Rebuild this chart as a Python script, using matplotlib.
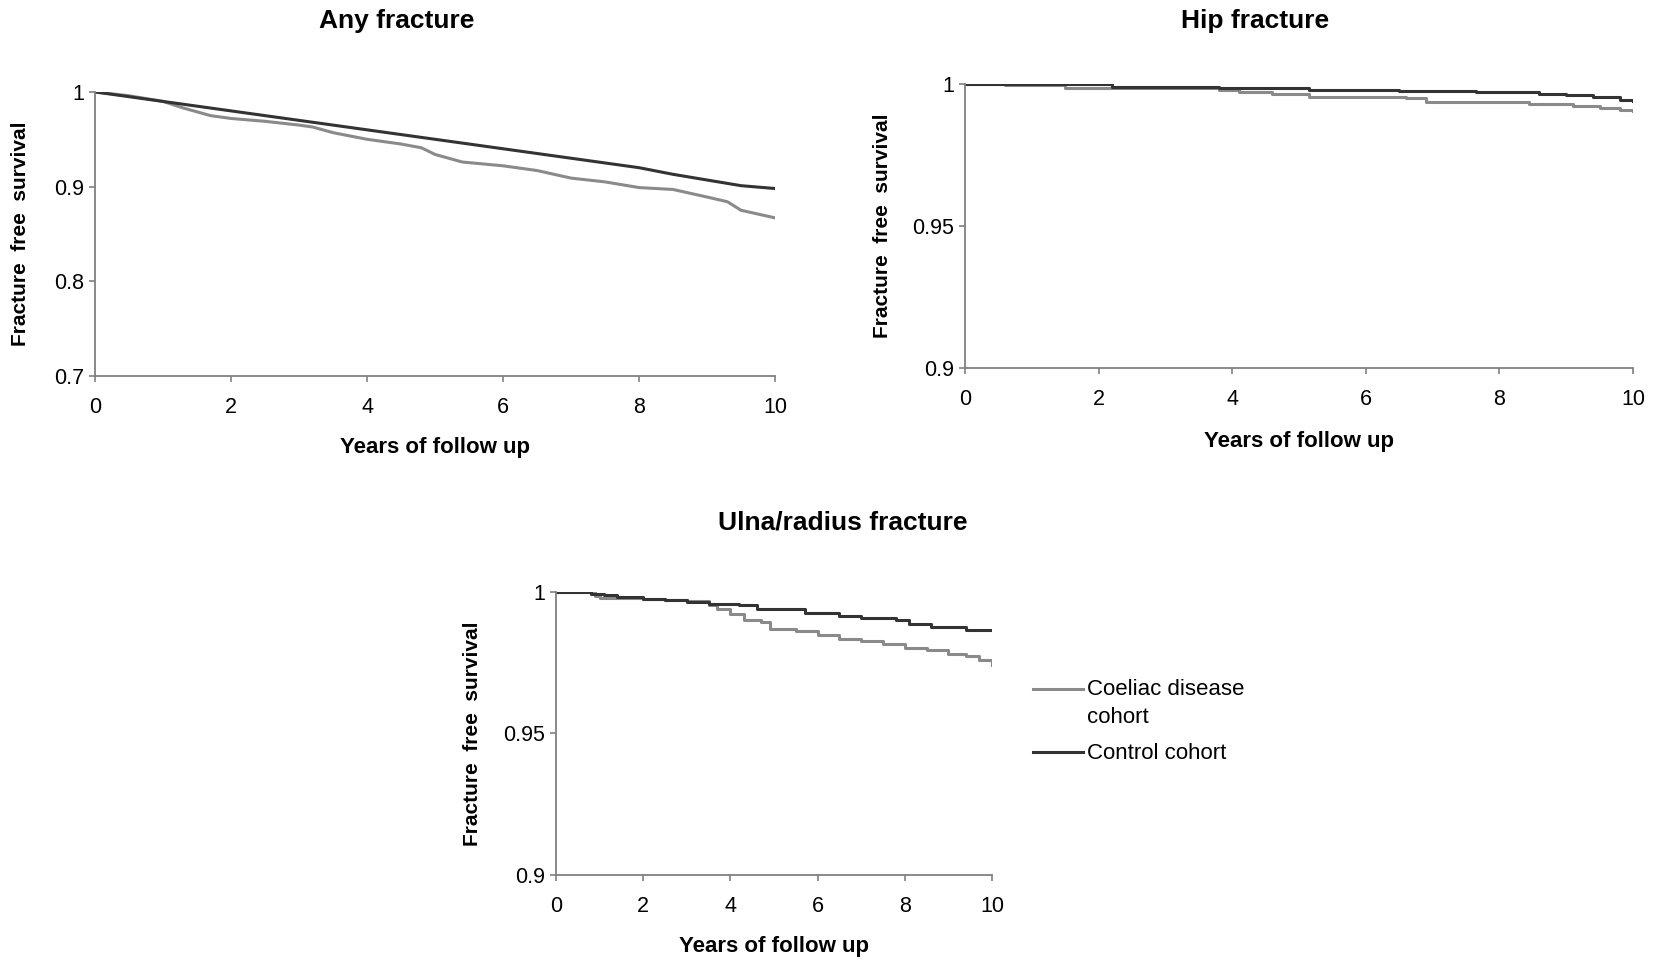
import matplotlib
matplotlib.use("Agg")
import matplotlib.pyplot as plt
from matplotlib.lines import Line2D

plt.rcParams['font.family'] = ['Liberation Sans', 'DejaVu Sans']

# Any fracture
any_ctrl_t = [0, 1, 2, 3, 4, 5, 6, 7, 8, 8.5, 9, 9.5, 10]
any_ctrl_s = [1.0, 0.990, 0.980, 0.970, 0.960, 0.950, 0.940, 0.930, 0.920, 0.913, 0.907, 0.901, 0.898]
any_coel_t = [0, 0.5, 1.0, 1.3, 1.7, 2.0, 2.5, 3.0, 3.2, 3.5, 4.0, 4.5, 4.8, 5.0, 5.4,
              6.0, 6.5, 7.0, 7.5, 8.0, 8.5, 9.0, 9.3, 9.5, 10]
any_coel_s = [1.0, 0.996, 0.990, 0.983, 0.975, 0.972, 0.969, 0.965, 0.963, 0.957, 0.950, 0.945, 0.941, 0.934, 0.926,
              0.922, 0.917, 0.909, 0.905, 0.899, 0.897, 0.889, 0.884, 0.875, 0.867]

# Hip fracture
hip_ctrl_t = [0, 2.2, 3.8, 5.15, 6.5, 7.65, 8.6, 9.0, 9.4, 9.8, 10]
hip_ctrl_s = [1.0, 0.9990, 0.9984, 0.9978, 0.9975, 0.9970, 0.9965, 0.9960, 0.9953, 0.9945, 0.9941]
hip_coel_t = [0, 0.6, 1.5, 3.8, 4.1, 4.6, 5.15, 6.6, 6.9, 7.5, 8.45, 9.1, 9.5, 9.8, 10]
hip_coel_s = [1.0, 0.9996, 0.9985, 0.9977, 0.9970, 0.9963, 0.9955, 0.9950, 0.9938, 0.9935, 0.9930,
              0.9924, 0.9917, 0.9910, 0.9905]

# Ulna/radius fracture
ulna_ctrl_t = [0, 0.8, 1.1, 1.4, 2.0, 2.5, 3.0, 3.5, 4.2, 4.6, 5.7, 6.5, 7.0, 7.8, 8.1, 8.6, 9.4, 10]
ulna_ctrl_s = [1.0, 0.9994, 0.9988, 0.9982, 0.9976, 0.9970, 0.9965, 0.9959, 0.9953, 0.9941, 0.9927,
               0.9915, 0.9908, 0.9900, 0.9888, 0.9876, 0.9866, 0.9866]
ulna_coel_t = [0, 0.9, 1.0, 2.0, 2.5, 3.0, 3.5, 3.7, 4.0, 4.3, 4.7, 4.9, 5.5, 6.0, 6.5, 7.0, 7.5,
               8.0, 8.5, 9.0, 9.4, 9.7, 10]
ulna_coel_s = [1.0, 0.9985, 0.9979, 0.9976, 0.9971, 0.9967, 0.9955, 0.9941, 0.9923, 0.9900, 0.9894,
               0.9870, 0.9861, 0.9849, 0.9835, 0.9826, 0.9817, 0.9803, 0.9794, 0.9782, 0.9774, 0.9760, 0.9743]

x_ticks = [0, 2, 4, 6, 8, 10]
any_yticks = [0.7, 0.8, 0.9, 1.0]
any_ylabels = ['0.7', '0.8', '0.9', '1']
sub_yticks = [0.9, 0.95, 1.0]
sub_ylabels = ['0.9', '0.95', '1']

coel_col = '#8a8a8a'
ctrl_col = '#333333'
axis_col = '#808080'

fig = plt.figure(figsize=(16.53, 9.65), dpi=100)


def style_axes(ax, yticks, ylabels, title, title_x, title_y, ylab_x, xlab_y):
    ax.set_xlim(0, 10)
    ax.set_ylim(yticks[0], yticks[-1])
    ax.set_xticks(x_ticks)
    ax.set_xticklabels([str(t) for t in x_ticks])
    ax.set_yticks(yticks)
    ax.set_yticklabels(ylabels)
    for s in ['top', 'right']:
        ax.spines[s].set_visible(False)
    for s in ['left', 'bottom']:
        ax.spines[s].set_color(axis_col)
        ax.spines[s].set_linewidth(1.3)
    ax.tick_params(axis='both', direction='out', length=4, width=1.2, color=axis_col,
                   labelsize=15.5, labelcolor='black')
    ax.tick_params(axis='x', pad=11)
    ax.tick_params(axis='y', pad=4)
    ax.set_ylabel('Fracture  free  survival', fontsize=15, fontweight='bold')
    ax.yaxis.set_label_coords(ylab_x, 0.5)
    ax.set_xlabel('Years of follow up', fontsize=16, fontweight='bold')
    ax.xaxis.set_label_coords(0.5, xlab_y)
    ax.set_title(title, fontsize=19, fontweight='bold', x=title_x, y=title_y, va='center', pad=0)


ax1 = fig.add_axes([0.0575, 0.6104, 0.4114, 0.2943])
ax1.plot(any_coel_t, any_coel_s, color=coel_col, lw=2.2)
ax1.plot(any_ctrl_t, any_ctrl_s, color=ctrl_col, lw=2.2)
style_axes(ax1, any_yticks, any_ylabels, 'Any fracture', 0.444, 1.25, -0.095, -0.215)

ax2 = fig.add_axes([0.5838, 0.6187, 0.4041, 0.2943])
ax2.plot(hip_coel_t, hip_coel_s, color=coel_col, lw=2.2, drawstyle='steps-post')
ax2.plot(hip_ctrl_t, hip_ctrl_s, color=ctrl_col, lw=2.2, drawstyle='steps-post')
style_axes(ax2, sub_yticks, sub_ylabels, 'Hip fracture', 0.434, 1.222, -0.11, -0.222)

ax3 = fig.add_axes([0.3364, 0.0933, 0.2637, 0.2933])
ax3.plot(ulna_coel_t, ulna_coel_s, color=coel_col, lw=2.2, drawstyle='steps-post')
ax3.plot(ulna_ctrl_t, ulna_ctrl_s, color=ctrl_col, lw=2.2, drawstyle='steps-post')
style_axes(ax3, sub_yticks, sub_ylabels, 'Ulna/radius fracture', 0.658, 1.247, -0.17, -0.216)

# legend drawn beside the bottom panel
fig.add_artist(Line2D([0.625, 0.655], [0.286, 0.286], color=coel_col, lw=2.2))
fig.add_artist(Line2D([0.625, 0.655], [0.221, 0.221], color=ctrl_col, lw=2.2))
fig.text(0.6576, 0.2706, 'Coeliac disease\ncohort', fontsize=16, va='center',
         ha='left', linespacing=1.45)
fig.text(0.6576, 0.219, 'Control cohort', fontsize=16, va='center', ha='left')

fig.savefig('out.png', dpi=100)
